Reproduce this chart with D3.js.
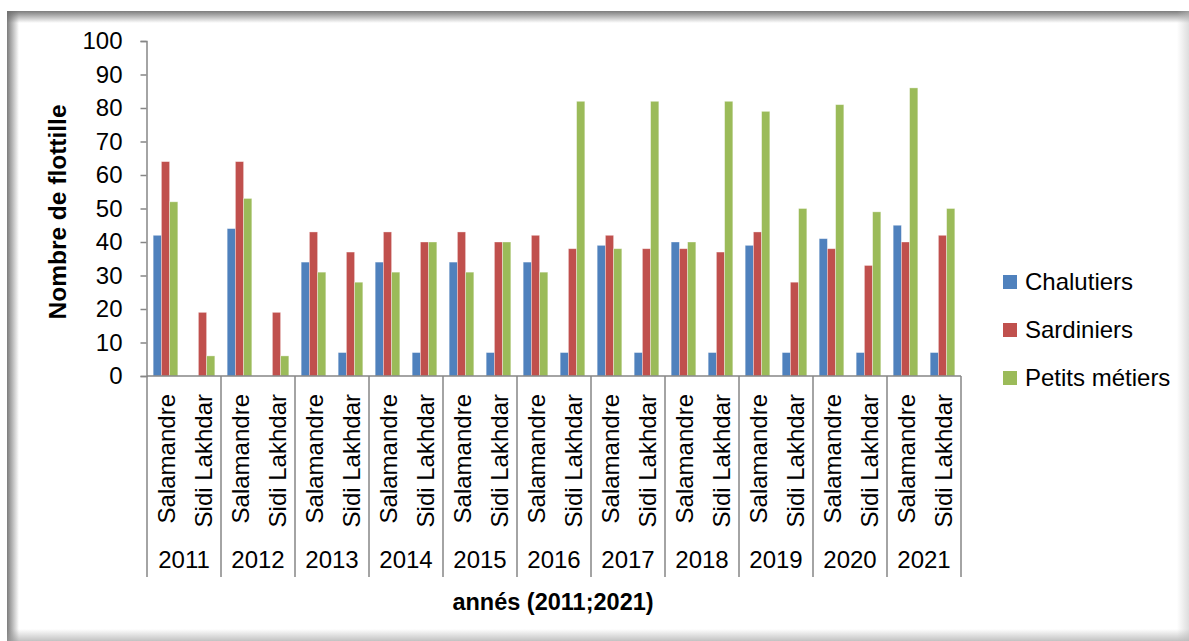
<!DOCTYPE html>
<html>
<head>
<meta charset="utf-8">
<script src="https://cdn.jsdelivr.net/npm/d3@7"></script>
<style>
  body { margin: 0; background: #fff; }
  svg { display: block; font-family: "Liberation Sans", Arial, sans-serif; }
</style>
</head>
<body>
<div id="chart"></div>
<script>
const years = ["2011", "2012", "2013", "2014", "2015", "2016", "2017", "2018", "2019", "2020", "2021"];
const sites = ["Salamandre", "Sidi Lakhdar"];
const seriesNames = ["Chalutiers", "Sardiniers", "Petits métiers"];
const seriesColors = ["#4F81BD", "#C0504D", "#9BBB59"];
// values in year order, Salamandre then Sidi Lakhdar
const chalutiers = [42, 0, 44, 0, 34, 7, 34, 7, 34, 7, 34, 7, 39, 7, 40, 7, 39, 7, 41, 7, 45, 7];
const sardiniers = [64, 19, 64, 19, 43, 37, 43, 40, 43, 40, 42, 38, 42, 38, 38, 37, 43, 28, 38, 33, 40, 42];
const petitsMetiers = [52, 6, 53, 6, 31, 28, 31, 40, 31, 40, 31, 82, 38, 82, 40, 82, 79, 50, 81, 49, 86, 50];
const yTicks = [0, 10, 20, 30, 40, 50, 60, 70, 80, 90, 100];

const W = 1189, H = 641;
const plot = { left: 147, right: 961, top: 41, bottom: 376 };
const axisColor = "#868686";
const fontSize = 24;

const svg = d3.select("#chart").append("svg")
  .attr("width", W)
  .attr("height", H);

// frame with soft inner shadow
const defs = svg.append("defs");
function grad(id, x1, y1, x2, y2, c, op) {
  const g = defs.append("linearGradient").attr("id", id)
    .attr("x1", x1).attr("y1", y1).attr("x2", x2).attr("y2", y2);
  g.append("stop").attr("offset", "0%").attr("stop-color", c).attr("stop-opacity", op);
  g.append("stop").attr("offset", "100%").attr("stop-color", c).attr("stop-opacity", 0);
}
grad("gTop", 0, 0, 0, 1, "#6e6e6e", 0.9);
grad("gLeft", 0, 0, 1, 0, "#6e6e6e", 0.9);
grad("gBottom", 0, 1, 0, 0, "#9a9a9a", 0.6);
grad("gRight", 1, 0, 0, 0, "#bbbbbb", 0.5);

svg.append("rect").attr("x", 7).attr("y", 11).attr("width", W - 7).attr("height", 12).attr("fill", "url(#gTop)");
svg.append("rect").attr("x", 7).attr("y", 11).attr("width", 12).attr("height", H - 11).attr("fill", "url(#gLeft)");
svg.append("rect").attr("x", 7).attr("y", H - 12).attr("width", W - 7).attr("height", 12).attr("fill", "url(#gBottom)");
svg.append("rect").attr("x", W - 12).attr("y", 11).attr("width", 12).attr("height", H - 11).attr("fill", "url(#gRight)");

// scales
const keys = [];
years.forEach(y => sites.forEach(s => keys.push(y + "|" + s)));
const x0 = d3.scaleBand().domain(keys).range([plot.left, plot.right]).paddingInner(0).paddingOuter(0);
const x1 = d3.scaleBand().domain(seriesNames).range([0, x0.bandwidth()]).paddingInner(0).paddingOuter(0.75);
const yearScale = d3.scaleBand().domain(years).range([plot.left, plot.right]);
const y = d3.scaleLinear().domain([0, 100]).range([plot.bottom, plot.top]);

// bars
const seriesData = [chalutiers, sardiniers, petitsMetiers];
const groups = svg.append("g").selectAll("g")
  .data(seriesNames)
  .join("g")
  .attr("fill", (d, i) => seriesColors[i]);

groups.selectAll("rect")
  .data((name, i) => seriesData[i].map((v, j) => ({ name, key: keys[j], value: v })))
  .join("rect")
  .filter(d => d.value > 0)
  .attr("x", d => x0(d.key) + x1(d.name))
  .attr("y", d => y(d.value))
  .attr("width", x1.bandwidth())
  .attr("height", d => y(0) - y(d.value))
  .attr("stroke", "rgba(255,255,255,0.45)")
  .attr("stroke-width", 0.8);

// y axis
const yAxis = svg.append("g")
  .attr("transform", `translate(${plot.left - 0.5},0)`)
  .call(d3.axisLeft(y).tickValues(yTicks).tickSize(6).tickPadding(18).tickSizeOuter(6));
yAxis.selectAll("path, line").attr("stroke", axisColor).attr("stroke-width", 1.5);
yAxis.selectAll("text")
  .attr("font-size", fontSize)
  .attr("fill", "#000")
  .attr("font-family", "Liberation Sans, Arial, sans-serif");

// x axis baseline
svg.append("line")
  .attr("x1", plot.left).attr("x2", plot.right)
  .attr("y1", plot.bottom).attr("y2", plot.bottom)
  .attr("stroke", axisColor).attr("stroke-width", 1.5);

// year separators
const sepBottom = 577;
svg.append("g").selectAll("line")
  .data(d3.range(years.length + 1))
  .join("line")
  .attr("x1", i => Math.round(plot.left + i * yearScale.step()))
  .attr("x2", i => Math.round(plot.left + i * yearScale.step()))
  .attr("y1", plot.bottom)
  .attr("y2", sepBottom)
  .attr("stroke", axisColor)
  .attr("stroke-width", 1.5);

// site labels (rotated)
svg.append("g").selectAll("text")
  .data(keys)
  .join("text")
  .attr("transform", d => `translate(${x0(d) + x0.bandwidth() / 2 + 9},394) rotate(-90)`)
  .attr("text-anchor", "end")
  .attr("font-size", fontSize)
  .attr("fill", "#000")
  .text(d => d.split("|")[1]);

// year labels
svg.append("g").selectAll("text")
  .data(years)
  .join("text")
  .attr("x", d => yearScale(d) + yearScale.bandwidth() / 2)
  .attr("y", 568)
  .attr("text-anchor", "middle")
  .attr("font-size", fontSize)
  .attr("fill", "#000")
  .text(d => d);

// axis titles
svg.append("text")
  .attr("x", 553)
  .attr("y", 610)
  .attr("text-anchor", "middle")
  .attr("font-size", 23.5)
  .attr("font-weight", "bold")
  .text("annés (2011;2021)");

svg.append("text")
  .attr("transform", "translate(66,212) rotate(-90)")
  .attr("text-anchor", "middle")
  .attr("font-size", 24.5)
  .attr("font-weight", "bold")
  .text("Nombre de flottille");

// legend
const legend = svg.append("g").selectAll("g")
  .data(seriesNames)
  .join("g")
  .attr("transform", (d, i) => `translate(1003,${282 + i * 48})`);
legend.append("rect")
  .attr("x", 0).attr("y", -7)
  .attr("width", 14).attr("height", 14)
  .attr("fill", (d, i) => seriesColors[i]);
legend.append("text")
  .attr("x", 22)
  .attr("y", 0)
  .attr("dy", "0.35em")
  .attr("font-size", fontSize)
  .attr("fill", "#000")
  .text(d => d);
</script>
</body>
</html>
